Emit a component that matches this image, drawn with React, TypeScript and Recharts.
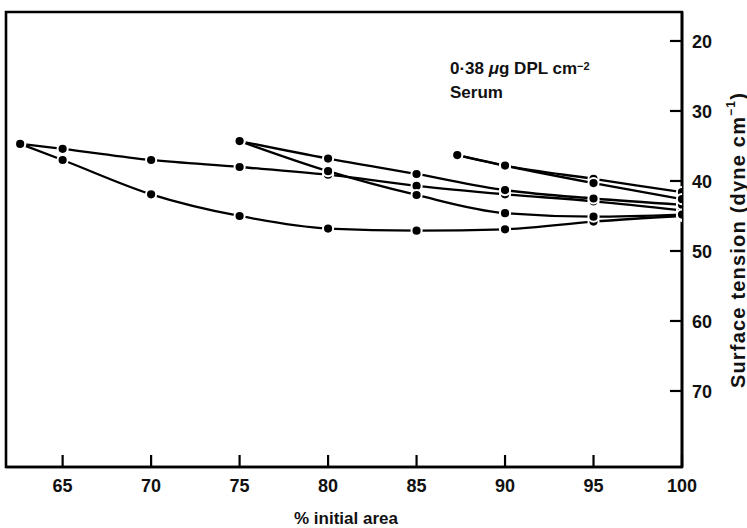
import React from "react";
import { LineChart, Line, XAxis, YAxis, ReferenceArea } from "recharts";

// % initial area at each reading
const outerX = [62.6, 65, 70, 75, 80, 85, 90, 95, 100];
const middleX = [75, 80, 85, 90, 95, 100];
const innerX = [87.3, 90, 95, 100];

// surface tension (dyne cm-1) per branch
const outerUpper = [34.7, 35.4, 37.0, 38.0, 39.1, 40.7, 41.9, 42.9, 44.2];
const outerLower = [34.7, 37.0, 41.9, 45.0, 46.8, 47.1, 46.9, 45.8, 45.0];
const middleUpper = [34.3, 36.8, 39.0, 41.3, 42.5, 43.4];
const middleLower = [34.3, 38.6, 42.0, 44.6, 45.1, 44.8];
const innerUpper = [36.3, 37.8, 39.7, 41.6];
const innerLower = [36.3, 37.8, 40.3, 42.6];

const xTicks = [65, 70, 75, 80, 85, 90, 95, 100];
const yTicks = [20, 30, 40, 50, 60, 70];

const X_DOMAIN: [number, number] = [61.8, 100];
const Y_DOMAIN: [number, number] = [15.86, 80.86];

const toPoints = (xs: number[], ys: number[]) => xs.map((x, i) => ({ x, y: ys[i] }));

const branches = [
  toPoints(outerX, outerUpper),
  toPoints(outerX, outerLower),
  toPoints(middleX, middleUpper),
  toPoints(middleX, middleLower),
  toPoints(innerX, innerUpper),
  toPoints(innerX, innerLower),
];

const FONT = "'Liberation Sans', Arial, Helvetica, sans-serif";

function XTick(props: any) {
  const { x, y, payload } = props;
  return (
    <g>
      <line x1={x} x2={x} y1={y} y2={y - 12} stroke="#000" strokeWidth={2.2} />
      <text x={x} y={y + 25} textAnchor="middle" fontFamily={FONT} fontSize={18} fontWeight={600} fill="#111">
        {payload.value}
      </text>
    </g>
  );
}

function YTick(props: any) {
  const { x, y, payload } = props;
  return (
    <g>
      <line x1={x} x2={x - 12} y1={y} y2={y} stroke="#000" strokeWidth={2.2} />
      <text x={x + 10} y={y + 7} textAnchor="start" fontFamily={FONT} fontSize={18} fontWeight={600} fill="#111">
        {payload.value}
      </text>
    </g>
  );
}

const dotStyle = { r: 5.1, fill: "#000", stroke: "#fff", strokeWidth: 2 };

export default function App() {
  return (
    <div style={{ position: "absolute", left: 0, top: 0, width: 747, height: 528, background: "#fff", fontFamily: FONT }}>
      <LineChart width={747} height={528} margin={{ top: 12, right: 0, bottom: 0, left: 6 }}>
        <XAxis
          dataKey="x"
          type="number"
          domain={X_DOMAIN}
          ticks={xTicks}
          interval={0}
          allowDataOverflow
          height={61}
          tickSize={0}
          tickMargin={0}
          tickLine={false}
          axisLine={{ stroke: "#000", strokeWidth: 2.6 }}
          tick={<XTick />}
        />
        <YAxis
          yAxisId="st"
          orientation="right"
          type="number"
          domain={Y_DOMAIN}
          reversed
          ticks={yTicks}
          interval={0}
          allowDataOverflow
          width={65}
          tickSize={0}
          tickMargin={0}
          tickLine={false}
          axisLine={{ stroke: "#000", strokeWidth: 2.6 }}
          tick={<YTick />}
        />
        <ReferenceArea
          yAxisId="st"
          x1={X_DOMAIN[0]}
          x2={X_DOMAIN[1]}
          y1={Y_DOMAIN[0]}
          y2={Y_DOMAIN[1]}
          fill="none"
          stroke="#000"
          strokeWidth={2.6}
          fillOpacity={0}
        />
        {branches.map((data, i) => (
          <Line
            key={i}
            yAxisId="st"
            data={data}
            dataKey="y"
            type="monotone"
            stroke="#000"
            strokeWidth={2.3}
            dot={dotStyle}
            activeDot={false}
            isAnimationActive={false}
          />
        ))}
      </LineChart>

      <div style={{ position: "absolute", left: 450, top: 57, fontSize: 17, fontWeight: 600, lineHeight: "24px", color: "#111", whiteSpace: "nowrap" }}>
        <div>
          0·38 <i>μ</i>g DPL cm
          <span style={{ fontSize: 11, verticalAlign: "top", position: "relative", top: -3 }}>−2</span>
        </div>
        <div>Serum</div>
      </div>

      <div
        style={{
          position: "absolute",
          left: 738,
          top: 240,
          transform: "translate(-50%, -50%) rotate(-90deg)",
          fontSize: 20,
          fontWeight: 600,
          letterSpacing: 1.2,
          color: "#111",
          whiteSpace: "nowrap",
        }}
      >
        Surface tension (dyne cm
        <span style={{ fontSize: 12, verticalAlign: "top", position: "relative", top: -3 }}>−1</span>)
      </div>

      <div
        style={{
          position: "absolute",
          left: 346,
          top: 519,
          transform: "translate(-50%, -50%)",
          fontSize: 17,
          fontWeight: 600,
          color: "#111",
          whiteSpace: "nowrap",
        }}
      >
        % initial area
      </div>
    </div>
  );
}
